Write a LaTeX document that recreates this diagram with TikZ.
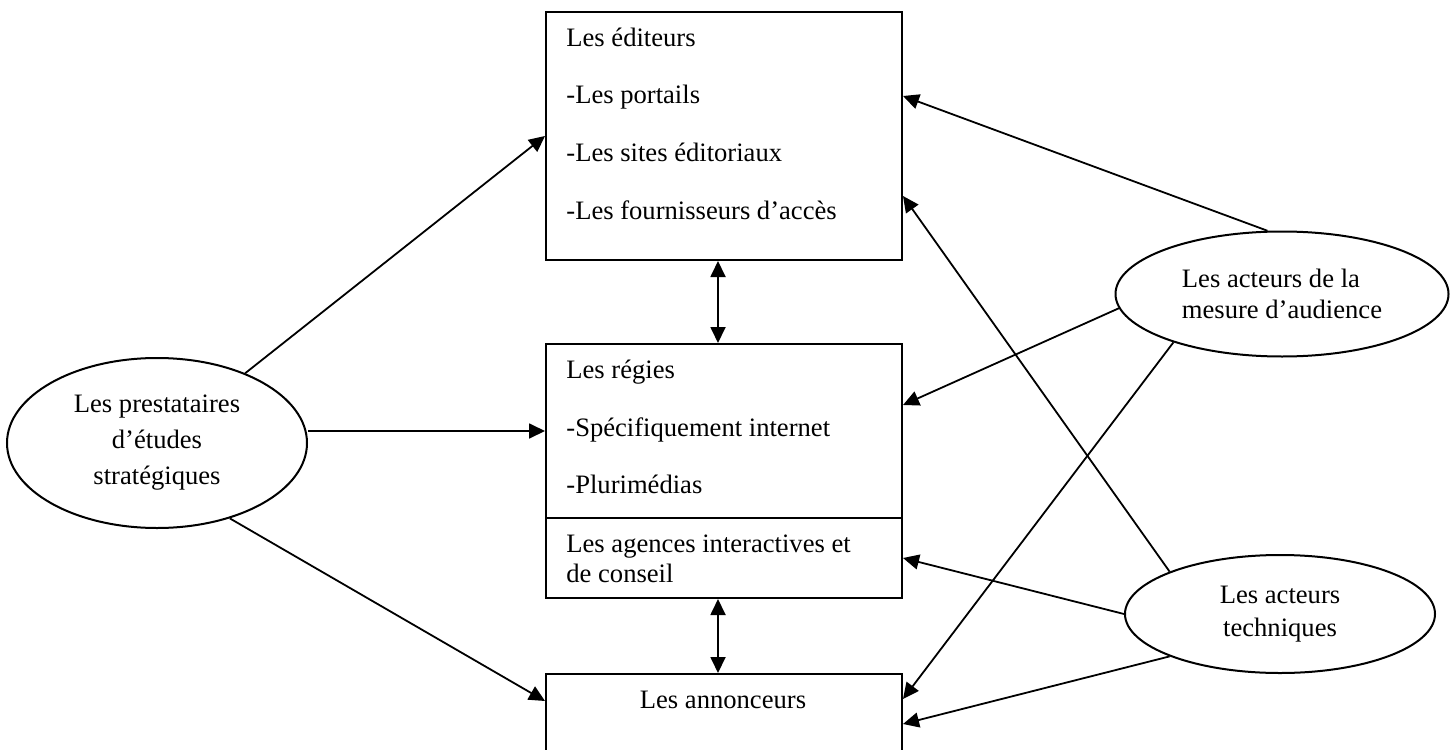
\documentclass[tikz,border=0pt]{standalone}
\usepackage{fontspec}
\setmainfont{Liberation Serif}
\usetikzlibrary{arrows.meta, shapes.geometric}

\tikzset{
  cadre/.style={draw, line width=1pt, rectangle, inner sep=0pt},
  bulle/.style={draw, line width=1pt, ellipse, inner sep=0pt, align=center},
  ligne/.style={anchor=base west, inner sep=0pt},
  fleche/.style={-{Triangle[length=8pt,width=7.5pt]}, line width=0.9pt},
  lien2/.style={{Triangle[length=8pt,width=7.5pt]}-{Triangle[length=8pt,width=7.5pt]}, line width=0.9pt}
}

\begin{document}
\begin{tikzpicture}[x=0.5pt, y=-0.5pt, font=\fontsize{13.3}{15.6}\selectfont]
  \useasboundingbox (0,0) rectangle (1455,749);
  % Boxes
  \node[cadre, minimum width=178pt, minimum height=124pt] (editeurs) at (724,136) {};
  \node[cadre, minimum width=178pt, minimum height=87pt] (regies) at (724,431) {};
  \node[cadre, minimum width=178pt, minimum height=40pt] (agences) at (724,558) {};
  \node[cadre, minimum width=178pt, minimum height=43pt] (annonc) at (724,717) {};
  % Box texts
  \foreach \y/\t [count=\i] in {47/Les éditeurs, 104/-Les portails,
      162/-Les sites éditoriaux, 219/-Les fournisseurs d’accès}
    \node[ligne] (ed\i) at (566,\y) {\t};
  \foreach \y/\t [count=\i] in {378/Les régies, 436/-Spécifiquement internet,
      493/-Plurimédias, 552/Les agences interactives et, 582/de conseil}
    \node[ligne] (rg\i) at (566,\y) {\t};
  \node[anchor=base, inner sep=0pt] (antxt) at (723,708) {Les annonceurs};
  % Ellipses
  \node[bulle, minimum width=150pt, minimum height=85pt,
        font=\fontsize{13.3}{18}\selectfont] (prest) at (157,443)
        {Les prestataires\\d’études\\stratégiques};
  \node[bulle, minimum width=166.5pt, minimum height=62.5pt, align=left]
        (mesure) at (1282,294) {Les acteurs de la\\mesure d’audience};
  \node[bulle, minimum width=155pt, minimum height=59pt,
        font=\fontsize{13.3}{16.5}\selectfont] (tech) at (1280,614)
        {Les acteurs\\techniques};
  % Connectors
  \draw[fleche] (prest) -- (editeurs.west);
  \draw[fleche] (prest.east |- regies.west) -- (regies.west);
  \draw[fleche] (prest.-46) -- ([yshift=-14pt]annonc.north west);
  \draw[fleche] (mesure.103) -- ([yshift=20pt]editeurs.east);
  \draw[fleche] (mesure.185) -- ([yshift=13pt]regies.east);
  \draw[fleche] (mesure.204) -- ([yshift=-13pt]annonc.north east);
  \draw[fleche] (tech.159) -- ([yshift=-30pt]editeurs.east);
  \draw[fleche] (tech.west) -- (agences.east);
  \draw[fleche] (tech.201) -- ([yshift=-25.5pt]annonc.north east);
  \draw[lien2] ([xshift=-3pt]editeurs.south) -- ([xshift=-3pt]regies.north);
  \draw[lien2] ([xshift=-3pt]agences.south) -- ([xshift=-3pt]annonc.north);
\end{tikzpicture}
\end{document}
